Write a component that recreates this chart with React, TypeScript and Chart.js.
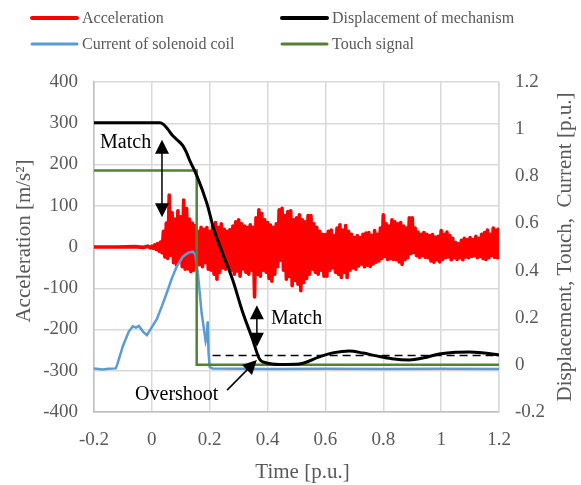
import React, { useEffect, useRef } from "react";
import { Chart, registerables } from "chart.js";
Chart.register(...registerables);

// ---------- data ----------
const xTickMin = -0.2;
const xTickMax = 1.2;
const xTickStep = 0.2;
const leftMin = -400;
const leftMax = 400;
const leftStep = 100;
const rightMin = -0.2;
const rightMax = 1.2;
const rightStep = 0.2;

// Acceleration [m/s^2] – quiet part before the impact
const accelPreTime = [-0.2, -0.12, -0.06, -0.03, -0.015, -0.005];
const accelPreValues = [0, 0, 1, -1, 2, -2];
// Acceleration samples from t = 0.000 every 0.005 p.u.
const accelStart = 0;
const accelStep = 0.005;
const accelValues = [
  2, -3, 5, -6, 8, -10, 12, -14, 38, -24,
  58, -28, 126, -20, 83, -38, 68, -43, 88, -33,
  73, -48, 114, -54, 93, -53, 68, -60, 58, -56,
  52, -46, 38, -43, 48, -48, 43, -38, 47, -54,
  38, -56, 51, -66, 59, -78, 48, -61, 56, -51,
  43, -54, 38, -48, 42, -56, 51, -66, 61, -58,
  66, -71, 56, -53, 51, -61, 48, -66, 54, -56,
  48, -121, 71, -66, 90, -71, 81, -56, 66, -61,
  59, -76, 53, -83, 48, -66, 56, -48, 90, -32,
  94, -56, 76, -78, 86, -71, 88, -94, 66, -81,
  71, -90, 78, -106, 66, -86, 61, -76, 76, -66,
  76, -54, 56, -61, 48, -66, 38, -56, 31, -71,
  30, -71, 38, -56, 41, -51, 28, -61, 46, -66,
  54, -74, 41, -61, 52, -74, 38, -56, 31, -51,
  23, -54, 28, -46, 23, -41, 31, -48, 34, -44,
  35, -47, 28, -41, 40, -37, 31, -34, 46, -28,
  78, -23, 56, -30, 51, -28, 66, -30, 61, -31,
  56, -36, 59, -42, 51, -31, 46, -26, 71, -16,
  71, -13, 46, -21, 36, -25, 31, -21, 35, -25,
  31, -26, 28, -34, 30, -37, 24, -31, 26, -36,
  40, -30, 31, -26, 36, -24, 28, -31, 21, -26,
  11, -30, 8, -26, 16, -31, 21, -24, 18, -26,
  23, -23, 18, -21, 26, -26, 21, -23, 31, -28,
  35, -30, 41, -26, 31, -21, 46, -25, 41, -26,
  47,
];

// Displacement of mechanism [p.u.] (right axis)
const dispTime = [
  -0.2, 0.0, 0.028, 0.04, 0.055, 0.07, 0.086, 0.107, 0.12, 0.131, 0.155, 0.19,
  0.215, 0.24, 0.279, 0.314, 0.348, 0.372, 0.397, 0.441, 0.51, 0.579, 0.63,
  0.683, 0.73, 0.776, 0.83, 0.89, 0.94, 0.993, 1.05, 1.097, 1.15, 1.2,
];
const dispValues = [
  1.027, 1.027, 1.027, 1.02, 1.0, 0.975, 0.956, 0.93, 0.9, 0.867, 0.804, 0.686,
  0.573, 0.488, 0.362, 0.223, 0.109, 0.025, 0.008, 0.002, 0.004, 0.034, 0.052,
  0.059, 0.05, 0.038, 0.026, 0.021, 0.03, 0.046, 0.054, 0.055, 0.05, 0.042,
];

// Touch signal [p.u.]
const touchTime = [-0.2, 0.155, 0.155, 1.2];
const touchValues = [0.825, 0.825, 0.0, 0.0];

// Current of solenoid coil [p.u.]
const currentTime = [
  -0.2, -0.17, -0.15, -0.125, -0.12, -0.1, -0.08, -0.066, -0.055, -0.045, -0.03,
  -0.017, 0.0, 0.017, 0.035, 0.052, 0.07, 0.086, 0.107, 0.125, 0.141, 0.15,
  0.159, 0.172, 0.186, 0.19, 0.193, 0.196, 0.2, 0.21, 0.4, 0.6, 0.8, 1.0, 1.2,
];
const currentValues = [
  -0.015, -0.02, -0.017, -0.015, 0.0, 0.08, 0.14, 0.164, 0.158, 0.165, 0.14,
  0.126, 0.16, 0.194, 0.25, 0.307, 0.37, 0.417, 0.459, 0.475, 0.48, 0.47,
  0.39, 0.22, 0.1, 0.12, 0.185, 0.05, -0.01, -0.015, -0.018, -0.016, -0.018, -0.016, -0.018,
];

// Final value reference (dashed)
const finalTime = [0.21, 1.2];
const finalValues = [0.04, 0.04];

// Annotations (data units: x = time, y = acceleration axis)
const match1Arrow = { x: 0.035, y1: 260, y2: 72 };
const match1Text = { x: -0.179, y: 252, text: "Match" };
const match2Arrow = { x: 0.363, y1: -141, y2: -242 };
const match2Text = { x: 0.412, y: -175, text: "Match" };
const overshootText = { x: -0.058, y: -359, text: "Overshoot" };
const overshootArrow = { x1: 0.26, y1: -347, x2: 0.363, y2: -274 };

const legendItems = [
  { label: "Acceleration", color: "#ff0000", width: 4 },
  { label: "Displacement of mechanism", color: "#000000", width: 4 },
  { label: "Current of solenoid coil", color: "#5b9bd5", width: 3 },
  { label: "Touch signal", color: "#548235", width: 3 },
];

const xTitle = "Time [p.u.]";
const yTitle = "Acceleration [m/s²]";
const y1Title = "Displacement, Touch,  Current [p.u.]";

const FONT = "'Liberation Serif', 'Times New Roman', serif";
const GRAY = "#595959";

function pairs(xs: number[], ys: number[]) {
  return xs.map((x, i) => ({ x, y: ys[i] }));
}

function fmt(v: number) {
  const r = Math.round(v * 1000) / 1000;
  return String(r === 0 ? 0 : r);
}

function arrowHead(ctx: CanvasRenderingContext2D, x: number, y: number, ang: number, len: number, half: number) {
  ctx.beginPath();
  ctx.moveTo(x, y);
  ctx.lineTo(x - len * Math.cos(ang) + half * Math.sin(ang), y - len * Math.sin(ang) - half * Math.cos(ang));
  ctx.lineTo(x - len * Math.cos(ang) - half * Math.sin(ang), y - len * Math.sin(ang) + half * Math.cos(ang));
  ctx.closePath();
  ctx.fill();
}

const overlayPlugin = {
  id: "overlay",
  afterDraw(chart: any) {
    const ctx: CanvasRenderingContext2D = chart.ctx;
    const xs = chart.scales.x;
    const ys = chart.scales.y;
    const area = chart.chartArea;
    ctx.save();

    // legend
    ctx.font = `16px ${FONT}`;
    ctx.textBaseline = "middle";
    ctx.textAlign = "left";
    const cols = [32, 282];
    const rows = [18, 44];
    legendItems.forEach((it, i) => {
      const cx = cols[i % 2];
      const cy = rows[Math.floor(i / 2)];
      ctx.strokeStyle = it.color;
      ctx.lineWidth = it.width;
      ctx.lineCap = "round";
      ctx.beginPath();
      ctx.moveTo(cx, cy);
      ctx.lineTo(cx + 45, cy);
      ctx.stroke();
      ctx.fillStyle = GRAY;
      ctx.fillText(it.label, cx + 50, cy + 1);
    });

    // axis titles
    ctx.font = `21px ${FONT}`;
    ctx.fillStyle = GRAY;
    ctx.textAlign = "center";
    ctx.textBaseline = "middle";
    ctx.fillText(xTitle, (area.left + area.right) / 2 + 6, 472);
    ctx.save();
    ctx.translate(24, (area.top + area.bottom) / 2 - 6);
    ctx.rotate(-Math.PI / 2);
    ctx.fillText(yTitle, 0, 0);
    ctx.restore();
    ctx.save();
    ctx.translate(565, (area.top + area.bottom) / 2);
    ctx.rotate(-Math.PI / 2);
    ctx.fillText(y1Title, 0, 0);
    ctx.restore();

    // annotations
    ctx.fillStyle = "#000";
    ctx.strokeStyle = "#000";
    ctx.font = `20px ${FONT}`;
    ctx.textAlign = "left";
    ctx.textBaseline = "middle";
    [match1Text, match2Text, overshootText].forEach((t) => {
      ctx.fillText(t.text, xs.getPixelForValue(t.x), ys.getPixelForValue(t.y));
    });

    ctx.lineWidth = 1.5;
    ctx.lineCap = "butt";
    [match1Arrow, match2Arrow].forEach((a) => {
      const px = xs.getPixelForValue(a.x);
      const p1 = ys.getPixelForValue(a.y1);
      const p2 = ys.getPixelForValue(a.y2);
      ctx.beginPath();
      ctx.moveTo(px, p1 + 8);
      ctx.lineTo(px, p2 - 8);
      ctx.stroke();
      arrowHead(ctx, px, p1, -Math.PI / 2, 14, 7);
      arrowHead(ctx, px, p2, Math.PI / 2, 14, 7);
    });

    {
      const x1 = xs.getPixelForValue(overshootArrow.x1);
      const y1 = ys.getPixelForValue(overshootArrow.y1);
      const x2 = xs.getPixelForValue(overshootArrow.x2);
      const y2 = ys.getPixelForValue(overshootArrow.y2);
      const ang = Math.atan2(y2 - y1, x2 - x1);
      ctx.beginPath();
      ctx.moveTo(x1, y1);
      ctx.lineTo(x2 - 10 * Math.cos(ang), y2 - 10 * Math.sin(ang));
      ctx.stroke();
      arrowHead(ctx, x2, y2, ang, 14, 7);
    }
    ctx.restore();
  },
};

export default function App() {
  const ref = useRef<HTMLCanvasElement>(null);
  useEffect(() => {
    const canvas = ref.current;
    if (!canvas) return;
    const accelData = [
      ...pairs(accelPreTime, accelPreValues),
      ...accelValues.map((v, i) => ({ x: +(accelStart + i * accelStep).toFixed(3), y: v })),
    ];
    const tickFont = { family: FONT, size: 19 };
    const chart = new Chart(canvas, {
      type: "line",
      data: {
        datasets: [
          {
            label: "Displacement of mechanism",
            data: pairs(dispTime, dispValues),
            yAxisID: "y1",
            borderColor: "#000000",
            borderWidth: 3,
            cubicInterpolationMode: "monotone",
            order: 0,
          },
          {
            label: "Final",
            data: pairs(finalTime, finalValues),
            yAxisID: "y1",
            borderColor: "#000000",
            borderWidth: 1.5,
            borderDash: [8, 5],
            order: 1,
          },
          {
            label: "Touch signal",
            data: pairs(touchTime, touchValues),
            yAxisID: "y1",
            borderColor: "#548235",
            borderWidth: 2.5,
            order: 2,
          },
          {
            label: "Current of solenoid coil",
            data: pairs(currentTime, currentValues),
            yAxisID: "y1",
            borderColor: "#5b9bd5",
            borderWidth: 2.5,
            order: 3,
          },
          {
            label: "Acceleration",
            data: accelData,
            yAxisID: "y",
            borderColor: "#ff0000",
            borderWidth: 3.6,
            borderJoinStyle: "round",
            order: 4,
          },
        ],
      },
      options: {
        animation: false,
        responsive: false,
        maintainAspectRatio: false,
        parsing: false as any,
        normalized: true,
        layout: { padding: { top: 82, left: 0, right: 0, bottom: 0 } },
        elements: { point: { radius: 0 }, line: { tension: 0 } },
        plugins: { legend: { display: false }, tooltip: { enabled: false } },
        scales: {
          x: {
            type: "linear",
            min: xTickMin,
            max: xTickMax,
            ticks: { stepSize: xTickStep, font: tickFont, color: GRAY, padding: 17, callback: (v: any) => fmt(Number(v)) },
            grid: { color: "#d9d9d9", lineWidth: 1.5, drawTicks: false },
            border: { color: "#bfbfbf", width: 1.5 },
            afterFit: (s: any) => { s.height = 73; },
          },
          y: {
            type: "linear",
            position: "left",
            min: leftMin,
            max: leftMax,
            ticks: { stepSize: leftStep, font: tickFont, color: GRAY, padding: 16, callback: (v: any) => fmt(Number(v)) },
            grid: { color: "#d9d9d9", lineWidth: 1.5, drawTicks: false },
            border: { color: "#bfbfbf", width: 1.5 },
            afterFit: (s: any) => { s.width = 94; },
          },
          y1: {
            type: "linear",
            position: "right",
            min: rightMin,
            max: rightMax,
            ticks: { stepSize: rightStep, font: tickFont, color: GRAY, padding: 16, callback: (v: any) => fmt(Number(v)) },
            grid: { display: false, drawTicks: false },
            border: { color: "#d9d9d9", width: 1.5 },
            afterFit: (s: any) => { s.width = 82; },
          },
        },
      } as any,
      plugins: [overlayPlugin],
    });
    return () => chart.destroy();
  }, []);
  return (
    <div style={{ position: "absolute", left: 0, top: 0, width: 581, height: 485, background: "#fff" }}>
      <canvas ref={ref} width={581} height={485} style={{ width: 581, height: 485, display: "block" }} />
    </div>
  );
}
